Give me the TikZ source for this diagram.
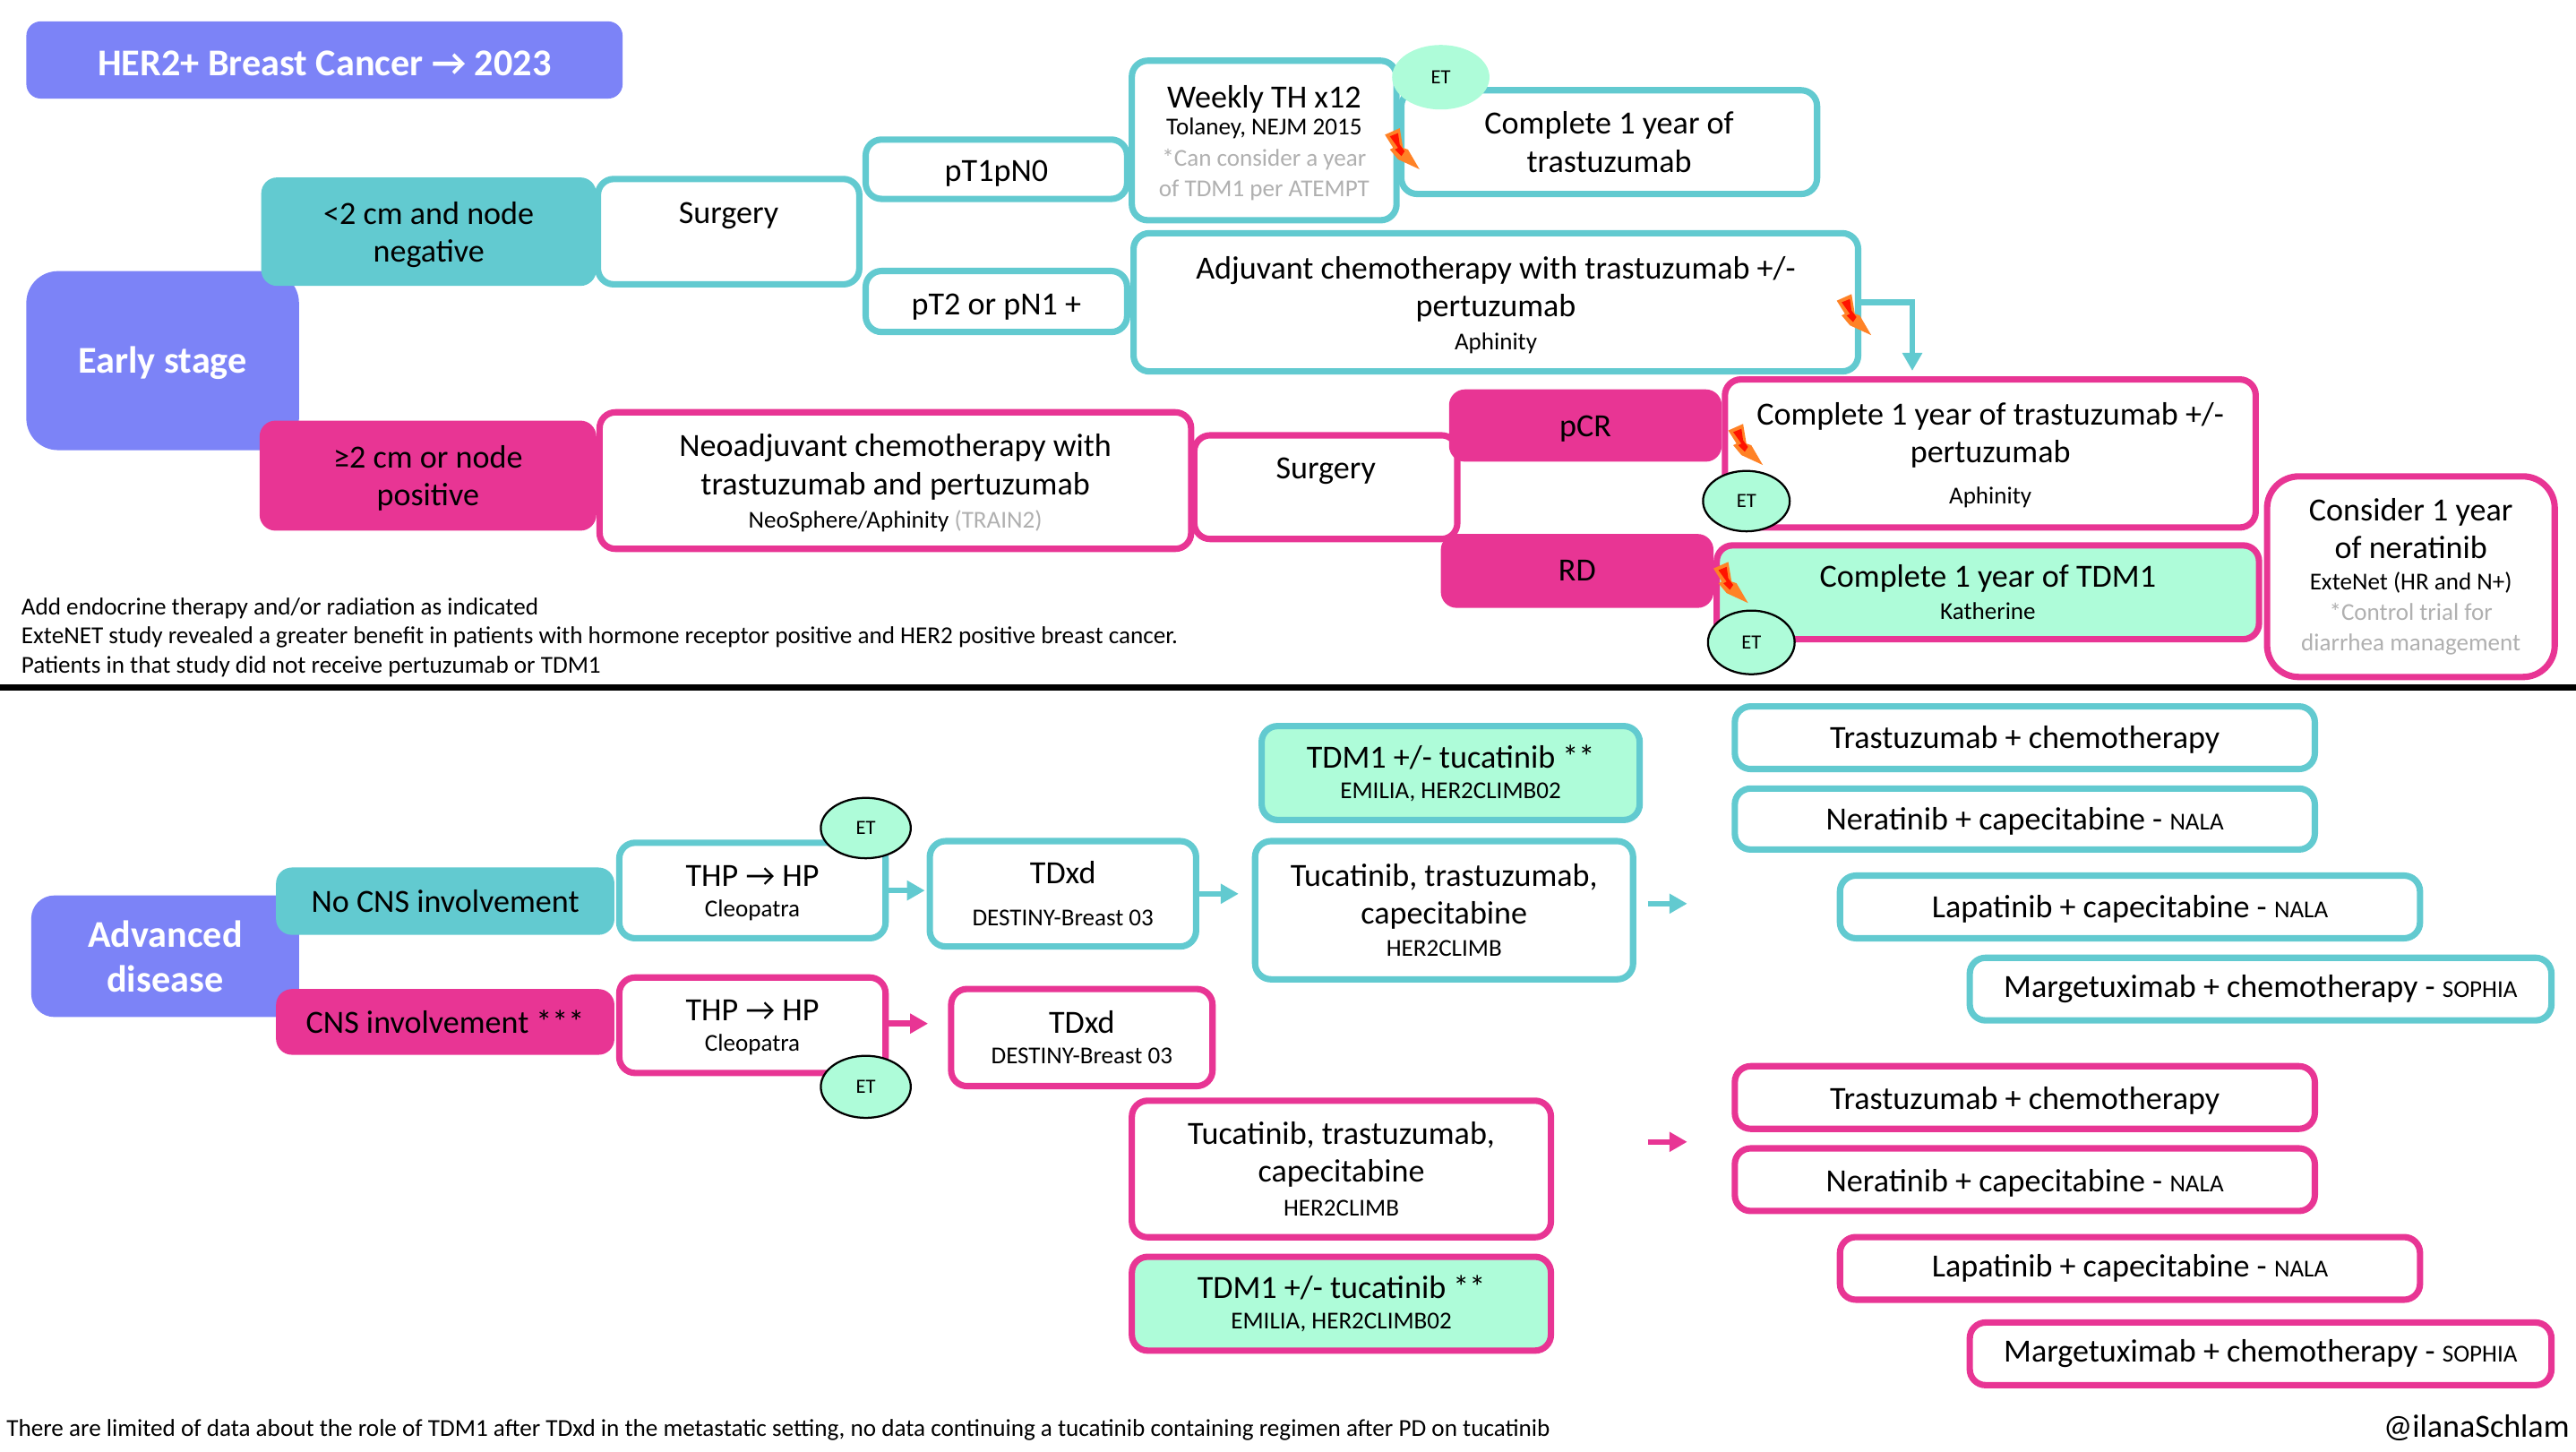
\documentclass[tikz,border=0pt]{standalone}
\usepackage{fontspec}
\setmainfont{Carlito}
\usetikzlibrary{arrows.meta,shapes.geometric}
\definecolor{pur}{HTML}{7C83F7}
\definecolor{tl}{HTML}{62CAD0}
\definecolor{pk}{HTML}{E83594}
\definecolor{mint}{HTML}{AEFCD9}
\definecolor{gry}{HTML}{B0B0B0}
\newcommand\sm{\fontsize{8.4}{13.1}\selectfont}
\newcommand\Tp[1]{\rule{0pt}{#1pt}}
\newcommand\bx[7]{%
  \pgfmathsetmacro\bxw{(#5-#3)*0.56906}%
  \pgfmathsetmacro\bxh{(#6-#4)*0.56906}%
  \node[#1,minimum width=\bxw pt-\pgflinewidth,minimum height=\bxh pt-\pgflinewidth] (#2) at ({(#3+#5)/2},{(#4+#6)/2}) {#7};}
\newcommand\flash[2]{%
  \begin{scope}[shift={(#1,#2)}]
    \fill[boltout] (9,0) -- (0,4) -- (5,12) -- (3,13) -- (8,19) -- (21,25) -- (14,13) -- (11,12) -- cycle;
    \fill[boltin] (8,3) -- (3,5) -- (8,12) -- (6,13) -- (10,17) -- (12,14) -- (9,10) -- cycle;
  \end{scope}}
\tikzset{
  base/.style={align=center,inner sep=0pt,outer sep=0pt,font=\fontsize{11.2}{13.1}\selectfont,text=black},
  tbox/.style={base,draw=tl,fill=white,line width=2.2pt,rounded corners=5.5pt},
  pbox/.style={base,draw=pk,fill=white,line width=2.2pt,rounded corners=5.5pt},
  tmint/.style={tbox,fill=mint},
  pmint/.style={pbox,fill=mint},
  tfill/.style={base,fill=tl,line width=0pt,rounded corners=5.5pt},
  pfill/.style={base,fill=pk,line width=0pt,rounded corners=5.5pt},
  purbox/.style={base,fill=pur,line width=0pt,rounded corners=5pt,text=white,font=\fontsize{13.1}{15.5}\selectfont\bfseries},
  etc/.style={base,fill=mint,font=\fontsize{7}{8}\selectfont,ellipse,inner sep=0pt},
  etb/.style={etc,draw=black,line width=0.7pt},
  boltout/.style={fill=orange!85!red!85!white},
  boltin/.style={fill=red!85!orange},
  tarr/.style={draw=tl,line width=2pt,-{Triangle[length=6.2pt,width=6.6pt]}},
  parr/.style={draw=pk,line width=2pt,-{Triangle[length=6.2pt,width=6.6pt]}},
  note/.style={inner sep=0pt,outer sep=0pt,anchor=west,align=left,font=\fontsize{8.43}{10}\selectfont,text=black},
}
\begin{document}
\begin{tikzpicture}[x=0.02cm,y=-0.02cm]
\useasboundingbox (0,0) rectangle (1568,883.3);
% Early stage
\bx{purbox}{title}{16}{13}{379}{60}{\Tp{10.8}HER2+ Breast Cancer → 2023}
\bx{purbox,rounded corners=11pt}{early}{16}{165}{182}{274}{\Tp{10.8}Early stage}
\bx{tfill}{small}{159}{108}{363}{174}{\Tp{9.7}<2 cm and node\\negative}
\bx{tbox}{surgt}{362}{107}{525}{175}{Surgery\\~}
\bx{tbox}{ptone}{525}{83}{688}{123}{\Tp{10.3}pT1pN0}
\bx{tbox}{pttwo}{525}{163}{688}{204}{\Tp{10.8}pT2 or pN1 +}
\bx{tbox}{comp}{851}{53}{1108}{120}{Complete 1 year of\\trastuzumab}
\bx{tbox}{weekly}{687}{35}{852}{136}{\Tp{9.3}Weekly TH x12\\[-3.5pt]{\sm Tolaney, NEJM 2015}\\[-2.5pt]{\sm\color{gry}*Can consider a year}\\[-2.5pt]{\sm\color{gry}of TDM1 per ATEMPT}}
\bx{tbox}{adj}{688}{140}{1133}{228}{\Tp{9.7}Adjuvant chemotherapy with trastuzumab +/-\\pertuzumab\\[-1.5pt]{\sm Aphinity}}
\bx{etc}{ettop}{847}{27}{907}{67}{ET}
\bx{pfill}{big}{158}{256}{363}{323}{\Tp{9.7}≥2 cm or node\\positive}
\bx{pbox}{neo}{363}{249}{727}{336}{\Tp{9.5}Neoadjuvant chemotherapy with\\trastuzumab and pertuzumab\\[-1.5pt]{\sm NeoSphere/Aphinity {\color{gry}(TRAIN2)}}}
\bx{pbox}{surgp}{725}{263}{889}{330}{Surgery\\~}
\bx{pfill}{pcr}{882}{237}{1048}{281}{\Tp{9.8}pCR}
\bx{pfill}{rd}{877}{325}{1043}{370}{RD}
\bx{pbox}{comptr}{1048}{229}{1375}{323}{\Tp{8.8}Complete 1 year of trastuzumab +/-\\pertuzumab\\[1pt]{\sm Aphinity}}
\bx{pmint}{comptd}{1043}{330}{1377}{391}{Complete 1 year of TDM1\\[-2pt]{\sm Katherine}}
\bx{pbox,rounded corners=11pt}{cons}{1378}{288}{1557}{414}{Consider 1 year\\of neratinib\\[-2.5pt]{\sm ExteNet (HR and N+)}\\[-2.5pt]{\sm\color{gry}*Control trial for}\\[-2.5pt]{\sm\color{gry}diarrhea management}}
\bx{etb}{etpcr}{1036}{286}{1090}{324}{ET}
\bx{etb}{etrd}{1039}{371}{1093}{411}{ET}
\flash{843}{78}
\flash{1118}{179}
\flash{1052}{258}
\flash{1043}{342}
\coordinate (adjc) at (1164,184);
\draw[tarr] (adj.east |- adjc) -- (adjc) -- (adjc |- comptr.north) [shorten >=3pt];
\node[note] (n1) at (13,388) {Add endocrine therapy and/or radiation as indicated\\ExteNET study revealed a greater benefit in patients with hormone receptor positive and HER2 positive breast cancer.\\Patients in that study did not receive pertuzumab or TDM1};
\coordinate (sepl) at (0,418.5);
\coordinate (sepr) at (1568,418.5);
\draw[line width=2.3pt] (sepl) -- (sepr);
% Advanced
\bx{purbox,rounded corners=8pt}{adv}{19}{545}{182}{619}{Advanced\\disease}
\bx{tfill}{nocns}{168}{528}{374}{569}{No CNS involvement}
\bx{pfill}{cns}{168}{602}{374}{642}{CNS involvement ***}
\bx{tbox}{thpt}{375}{511}{541}{573}{\Tp{8.8}THP → HP\\[-2.5pt]{\sm Cleopatra}}
\bx{pbox}{thpp}{375}{593}{541}{655}{\Tp{8.8}THP → HP\\[-2.5pt]{\sm Cleopatra}}
\bx{etb}{etthpt}{499}{485}{555}{523}{ET}
\bx{etb}{etthpp}{499}{642}{555}{681}{ET}
\bx{tbox}{dxt}{564}{510}{730}{578}{TDxd\\[1.5pt]{\sm DESTINY-Breast 03}}
\bx{pbox}{dxp}{577}{600}{740}{663}{TDxd\\[-2.5pt]{\sm DESTINY-Breast 03}}
\bx{tmint}{tdmt}{766}{440}{1000}{501}{TDM1 +/- tucatinib **\\[-2.5pt]{\sm EMILIA, HER2CLIMB02}}
\bx{tbox}{tuct}{762}{510}{996}{598}{Tucatinib, trastuzumab,\\capecitabine\\[-2pt]{\sm HER2CLIMB}}
\bx{pbox}{tucp}{687}{668}{946}{755}{Tucatinib, trastuzumab,\\capecitabine\\[-1.5pt]{\sm HER2CLIMB}}
\bx{pmint}{tdmp}{687}{763}{946}{824}{TDM1 +/- tucatinib **\\[-2.5pt]{\sm EMILIA, HER2CLIMB02}}
\bx{tbox}{a1}{1054}{428}{1411}{470}{\Tp{9.3}Trastuzumab + chemotherapy}
\bx{tbox}{a2}{1054}{478}{1411}{519}{\Tp{9.3}Neratinib + capecitabine - {\sm NALA}}
\bx{tbox}{a3}{1118}{531}{1475}{573}{\Tp{9.3}Lapatinib + capecitabine - {\sm NALA}}
\bx{tbox}{a4}{1197}{581}{1555}{623}{Margetuximab + chemotherapy - {\sm SOPHIA}}
\bx{pbox}{b1}{1054}{647}{1411}{689}{\Tp{10}Trastuzumab + chemotherapy}
\bx{pbox}{b2}{1054}{697}{1411}{739}{\Tp{10}Neratinib + capecitabine - {\sm NALA}}
\bx{pbox}{b3}{1118}{751}{1475}{793}{Lapatinib + capecitabine - {\sm NALA}}
\bx{pbox}{b4}{1197}{803}{1555}{845}{Margetuximab + chemotherapy - {\sm SOPHIA}}
\draw[tarr,shorten >=1.7pt] (thpt.east) -- (thpt.east -| dxt.west);
\draw[tarr,shorten >=5.7pt] (dxt.east) -- (dxt.east -| tuct.west);
\coordinate (ppa) at (541,623);
\draw[parr,shorten >=8pt] (ppa) -- (ppa -| dxp.west);
\coordinate (fta) at (1003,550);
\coordinate (ftb) at (1027,550);
\draw[tarr] (fta) -- (ftb);
\coordinate (fpa) at (1003,695);
\coordinate (fpb) at (1027,695);
\draw[parr] (fpa) -- (fpb);
\node[note] (foot) at (4,870.5) {There are limited of data about the role of TDM1 after TDxd in the metastatic setting, no data continuing a tucatinib containing regimen after PD on tucatinib};
\node[note,anchor=east,font=\fontsize{11.2}{12}\selectfont] (handle) at (1564,869) {@ilanaSchlam};
\end{tikzpicture}
\end{document}
